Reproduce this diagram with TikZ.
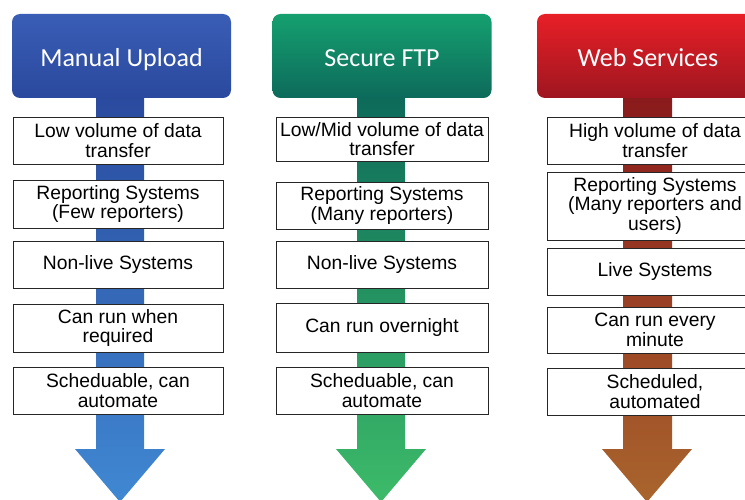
\documentclass[tikz,border=0pt]{standalone}
\usepackage{fontspec}
\setmainfont{Liberation Sans}
\newfontfamily\headfont{Carlito}
\usetikzlibrary{shadows}
\definecolor{bluetop}{HTML}{3A5DB5}
\definecolor{bluebot}{HTML}{2A499E}
\definecolor{blueshafttop}{HTML}{2A4A9E}
\definecolor{blueshaftbot}{HTML}{4088D2}
\definecolor{greentop}{HTML}{15A06F}
\definecolor{greenbot}{HTML}{0D6A5B}
\definecolor{greenshafttop}{HTML}{0D6A5A}
\definecolor{greenshaftbot}{HTML}{3DBB69}
\definecolor{redtop}{HTML}{E81F27}
\definecolor{redbot}{HTML}{9E1620}
\definecolor{redshafttop}{HTML}{8A1A1C}
\definecolor{redshaftbot}{HTML}{A9652D}
\begin{document}
\begin{tikzpicture}[x=1pt,y=-1pt,
  hdr/.style={rounded corners=8pt, minimum width=219pt, minimum height=84pt, inner sep=0pt,
    text height=22pt, text depth=0pt,
    text=white, font=\headfont\fontsize{26}{28}\selectfont},
  infobox/.style={draw=black!85, line width=0.8pt, fill=white, minimum width=210pt, inner sep=0pt,
    align=center, font=\fontsize{19.3}{19.5}\selectfont,
    drop shadow={shadow xshift=1.2pt, shadow yshift=-1.2pt, opacity=0.3}}]
\useasboundingbox (0,0) rectangle (745,500);
\begin{scope}
\clip (0,0) rectangle (745,500);
% arrows (shafts and heads)
\shade[top color=blueshafttop, bottom color=blueshaftbot]
  (96,96) -- (144,96) -- (144,449) -- (165,449) -- (120,502) -- (75,449) -- (96,449) -- cycle;
\shade[top color=greenshafttop, bottom color=greenshaftbot]
  (357,96) -- (405,96) -- (405,449) -- (426,449) -- (381,502) -- (336,449) -- (357,449) -- cycle;
\shade[top color=redshafttop, bottom color=redshaftbot]
  (623,96) -- (672,96) -- (672,449) -- (692,449) -- (647,502) -- (602,449) -- (623,449) -- cycle;
% headers
\node[hdr, top color=bluetop, bottom color=bluebot] (h1) at (121.5,56) {Manual Upload};
\node[hdr, top color=greentop, bottom color=greenbot] (h2) at (382,56) {Secure FTP};
\node[hdr, top color=redtop, bottom color=redbot, minimum width=222pt] (h3) at (648,56) {Web Services};
% column 1
\node[infobox, minimum height=47pt] (a1) at (118,140.5) {Low volume of data\\transfer};
\node[infobox, minimum height=48pt] (a2) at (118,204) {Reporting Systems\\(Few reporters)};
\node[infobox, minimum height=47pt] (a3) at (118,264.5) {Non-live Systems};
\node[infobox, minimum height=48pt] (a4) at (118,328) {Can run when\\required};
\node[infobox, minimum height=47pt] (a5) at (118,390.5) {Scheduable, can\\automate};
% column 2
\node[infobox, minimum width=212pt, minimum height=44pt] (b1) at (382,139) {Low/Mid volume of data\\transfer};
\node[infobox, minimum width=212pt, minimum height=47pt] (b2) at (382,205.5) {Reporting Systems\\(Many reporters)};
\node[infobox, minimum width=212pt, minimum height=47pt] (b3) at (382,264.5) {Non-live Systems};
\node[infobox, minimum width=212pt, minimum height=49pt] (b4) at (382,327.5) {Can run overnight};
\node[infobox, minimum width=212pt, minimum height=47pt] (b5) at (382,390.5) {Scheduable, can\\automate};
% column 3
\node[infobox, minimum width=216pt, minimum height=47pt] (c1) at (655,140.5) {High volume of data\\transfer};
\node[infobox, minimum width=216pt, minimum height=68pt] (c2) at (655,206) {Reporting Systems\\(Many reporters and\\users)};
\node[infobox, minimum width=216pt, minimum height=47pt] (c3) at (655,271.5) {Live Systems};
\node[infobox, minimum width=216pt, minimum height=46pt] (c4) at (655,330) {Can run every\\minute};
\node[infobox, minimum width=216pt, minimum height=47pt] (c5) at (655,391.5) {Scheduled,\\automated};
\end{scope}
\end{tikzpicture}
\end{document}
